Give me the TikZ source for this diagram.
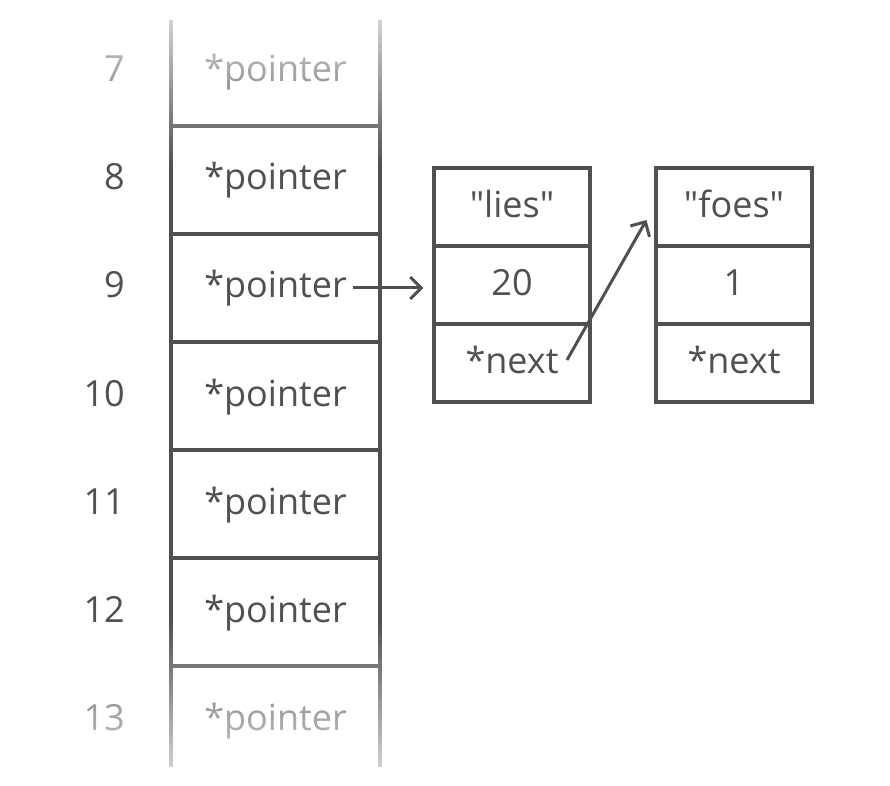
\documentclass[tikz,border=0pt]{standalone}
\usepackage{fontspec}
\setmainfont{Open Sans}[Ligatures=TeXOff]
\usetikzlibrary{arrows.meta,fadings}
\definecolor{ink}{HTML}{505050}
\tikzset{
	cell/.style={draw=ink, line width=3.2pt, minimum width=156pt, minimum height=78pt, inner sep=0pt, text=ink, text height=29pt, text depth=8pt},
	slot/.style={inner sep=0pt, text=ink, text height=28pt, text depth=8pt},
	addr/.style={anchor=east, inner sep=0pt, text=ink, text height=28pt, text depth=8pt},
	link/.style={draw=ink, line width=3pt, -{Straight Barb[length=11pt,width=22pt]}},
}

\begin{document}
\begin{tikzpicture}[x=1pt, y=1pt, font=\fontsize{36}{40}\selectfont]
		%%%%% START %%%%%
		\useasboundingbox[fill=white] (0, 0) rectangle (890, 785);
		
		% stack
		\draw[ink, line width=3.2pt] (171, 765) -- (171, 18);
		\draw[ink, line width=3.2pt] (380, 765) -- (380, 18);
		\draw[ink, line width=3.2pt] (171, 659) -- (380, 659);
		\draw[ink, line width=3.2pt] (171, 551) -- (380, 551);
		\draw[ink, line width=3.2pt] (171, 443) -- (380, 443);
		\draw[ink, line width=3.2pt] (171, 335) -- (380, 335);
		\draw[ink, line width=3.2pt] (171, 227) -- (380, 227);
		\draw[ink, line width=3.2pt] (171, 119) -- (380, 119);
		
		\node[slot] (p7) at (275.5, 713) {*pointer};
		\node[slot] (p8) at (275.5, 605) {*pointer};
		\node[slot] (p9) at (275.5, 497) {*pointer};
		\node[slot] (p10) at (275.5, 389) {*pointer};
		\node[slot] (p11) at (275.5, 281) {*pointer};
		\node[slot] (p12) at (275.5, 173) {*pointer};
		\node[slot] (p13) at (275.5, 65) {*pointer};
		
		\node[addr] (a7) at (125, 713) {7};
		\node[addr] (a8) at (125, 605) {8};
		\node[addr] (a9) at (125, 497) {9};
		\node[addr] (a10) at (125, 389) {10};
		\node[addr] (a11) at (125, 281) {11};
		\node[addr] (a12) at (125, 173) {12};
		\node[addr] (a13) at (125, 65) {13};
		
		% list
		\node[cell] (name1) at (512, 578) {"lies"};
		\node[cell] (val1) at (512, 500) {20};
		\node[cell] (next1) at (512, 422) {*next};
		
		\node[cell] (name2) at (734, 578) {"foes"};
		\node[cell] (val2) at (734, 500) {1};
		\node[cell] (next2) at (734, 422) {*next};
		
		\draw[link] ([xshift=6pt]p9.east) -- ([xshift=-9pt]p9.east -| val1.west);
		\draw[link] ([shift={(55,3)}]next1.center) -- ([shift={(-8,-13)}]name2.west);
		
		% fade out
		\fill[white, path fading=south] (60, 814) rectangle (400, 618);
		\fill[white, path fading=north] (60, 165) rectangle (400, -35);
		
		%%%%% END %%%%%
	\end{tikzpicture}
\end{document}
